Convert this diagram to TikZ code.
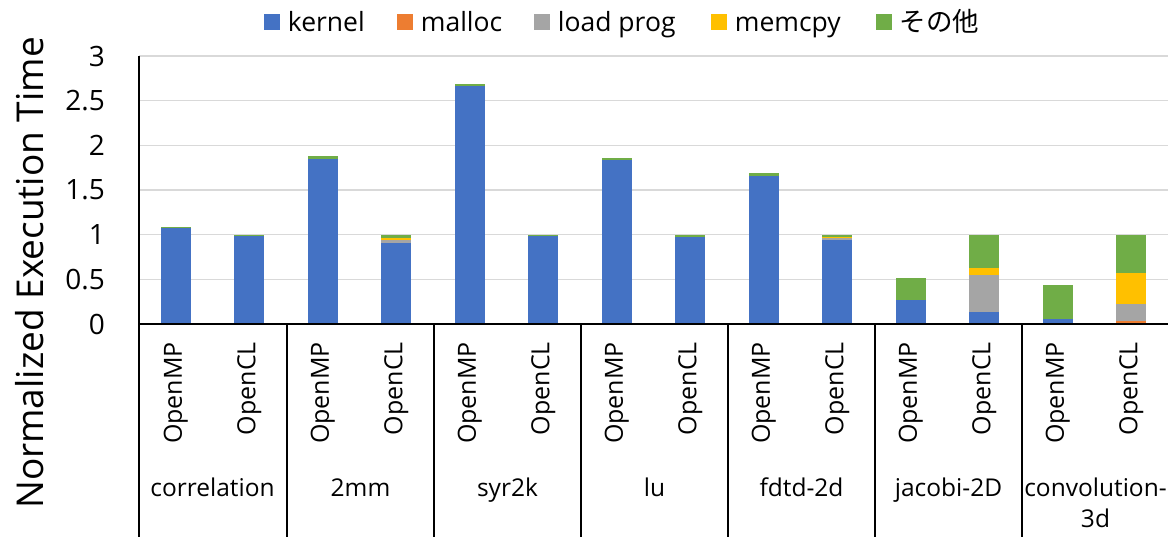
\documentclass[tikz,border=0pt]{standalone}
\usepackage{fontspec}
\setmainfont{Open Sans}
\newfontfamily\jpfont{Noto Sans CJK JP}
\usetikzlibrary{positioning}
\definecolor{kernelc}{HTML}{4472C4}
\definecolor{mallocc}{HTML}{ED7D31}
\definecolor{loadc}{HTML}{A5A5A5}
\definecolor{memcpyc}{HTML}{FFC000}
\definecolor{otherc}{HTML}{70AD47}
\definecolor{gridc}{HTML}{D9D9D9}
% one stacked segment: centre x, from value, to value, colour
\newcommand{\barseg}[4]{\fill[#4] ({#1-15},{213+89.3*#2}) rectangle ({#1+15},{213+89.3*#3});}

\begin{document}
\begin{tikzpicture}[
    x=1pt, y=1pt,
    every node/.style={inner sep=0pt, font=\fontsize{25}{30}\selectfont},
    ticklabel/.style={anchor=east, font=\fontsize{28}{32}\selectfont},
    runlabel/.style={rotate=90, anchor=east},
    grouplabel/.style={anchor=base, font=\fontsize{24.5}{30}\selectfont},
    legbox/.style={minimum size=16pt, fill=#1},
    legtext/.style={font=\fontsize{26.5}{30}\selectfont, text height=22pt, text depth=3pt},
    grid line/.style={draw=gridc, line width=1.5pt},
    axis line/.style={draw=black, line width=1.5pt},
]
  \useasboundingbox (0,0) rectangle (1168,537);

  \foreach \v in {0.5,1,1.5,2,2.5,3}
    \draw[grid line] (139,{213+89.3*\v}) -- (1168,{213+89.3*\v});

  % correlation
  \barseg{175.75}{0}{1.07}{kernelc}
  \barseg{175.75}{1.07}{1.09}{otherc}
  \barseg{249.25}{0}{0.985}{kernelc}
  \barseg{249.25}{0.985}{0.993}{memcpyc}
  \barseg{249.25}{0.993}{1.0}{otherc}
  % 2mm
  \barseg{322.75}{0}{1.85}{kernelc}
  \barseg{322.75}{1.85}{1.88}{otherc}
  \barseg{396.25}{0}{0.91}{kernelc}
  \barseg{396.25}{0.91}{0.94}{loadc}
  \barseg{396.25}{0.94}{0.965}{memcpyc}
  \barseg{396.25}{0.965}{1.0}{otherc}
  % syr2k
  \barseg{469.75}{0}{2.67}{kernelc}
  \barseg{469.75}{2.67}{2.69}{otherc}
  \barseg{543.25}{0}{0.99}{kernelc}
  \barseg{543.25}{0.99}{0.995}{memcpyc}
  \barseg{543.25}{0.995}{1.0}{otherc}
  % lu
  \barseg{616.75}{0}{1.84}{kernelc}
  \barseg{616.75}{1.84}{1.86}{otherc}
  \barseg{690.25}{0}{0.97}{kernelc}
  \barseg{690.25}{0.97}{1.0}{otherc}
  % fdtd-2d
  \barseg{763.75}{0}{1.66}{kernelc}
  \barseg{763.75}{1.66}{1.69}{otherc}
  \barseg{837.25}{0}{0.94}{kernelc}
  \barseg{837.25}{0.94}{0.96}{loadc}
  \barseg{837.25}{0.96}{0.97}{memcpyc}
  \barseg{837.25}{0.97}{1.0}{otherc}
  % jacobi-2D
  \barseg{910.75}{0}{0.27}{kernelc}
  \barseg{910.75}{0.27}{0.52}{otherc}
  \barseg{984.25}{0}{0.13}{kernelc}
  \barseg{984.25}{0.13}{0.55}{loadc}
  \barseg{984.25}{0.55}{0.63}{memcpyc}
  \barseg{984.25}{0.63}{1.0}{otherc}
  % convolution-3d
  \barseg{1057.75}{0}{0.055}{kernelc}
  \barseg{1057.75}{0.055}{0.44}{otherc}
  \barseg{1131.25}{0}{0.01}{kernelc}
  \barseg{1131.25}{0.01}{0.03}{mallocc}
  \barseg{1131.25}{0.03}{0.22}{loadc}
  \barseg{1131.25}{0.22}{0.57}{memcpyc}
  \barseg{1131.25}{0.57}{1.0}{otherc}

  \draw[axis line] (139,{213+89.3*3}) -- (139,0);
  \draw[axis line] (139,213) -- (1168,213);
  \foreach \gx in {287,434,581,728,875,1022}
    \draw[axis line] (\gx,213) -- (\gx,0);

  \node[ticklabel] (t0) at (105,213)              {0};
  \node[ticklabel] (t1) at (105,{213+89.3*0.5})   {0.5};
  \node[ticklabel] (t2) at (105,{213+89.3*1})     {1};
  \node[ticklabel] (t3) at (105,{213+89.3*1.5})   {1.5};
  \node[ticklabel] (t4) at (105,{213+89.3*2})     {2};
  \node[ticklabel] (t5) at (105,{213+89.3*2.5})   {2.5};
  \node[ticklabel] (t6) at (105,{213+89.3*3})     {3};

  \node[rotate=90, font=\fontsize{37}{40}\selectfont] (ytitle) at (30,264) {Normalized Execution Time};

  \node[runlabel] (mp1) at (175.75,195)  {OpenMP};
  \node[runlabel] (cl1) at (249.25,195)  {OpenCL};
  \node[runlabel] (mp2) at (322.75,195)  {OpenMP};
  \node[runlabel] (cl2) at (396.25,195)  {OpenCL};
  \node[runlabel] (mp3) at (469.75,195)  {OpenMP};
  \node[runlabel] (cl3) at (543.25,195)  {OpenCL};
  \node[runlabel] (mp4) at (616.75,195)  {OpenMP};
  \node[runlabel] (cl4) at (690.25,195)  {OpenCL};
  \node[runlabel] (mp5) at (763.75,195)  {OpenMP};
  \node[runlabel] (cl5) at (837.25,195)  {OpenCL};
  \node[runlabel] (mp6) at (910.75,195)  {OpenMP};
  \node[runlabel] (cl6) at (984.25,195)  {OpenCL};
  \node[runlabel] (mp7) at (1057.75,195) {OpenMP};
  \node[runlabel] (cl7) at (1131.25,195) {OpenCL};

  \node[grouplabel] (gcorr)  at (212.5,40)  {correlation};
  \node[grouplabel] (g2mm)   at (360.5,40)  {2mm};
  \node[grouplabel] (gsyr)   at (507.5,40)  {syr2k};
  \node[grouplabel] (glu)    at (654.5,40)  {lu};
  \node[grouplabel] (gfdtd)  at (801.5,40)  {fdtd-2d};
  \node[grouplabel] (gjac)   at (948.5,40)  {jacobi-2D};
  \node[grouplabel] (gconv)  at (1095.5,40) {convolution-};
  \node[grouplabel] (gconv2) at (1095.5,9)  {3d};

  \node[legbox=kernelc] (lk) at (271.5,514.5) {};
  \node[legtext, right=8pt of lk] (nk) {kernel};
  \node[legbox=mallocc] (lm) at (404.5,514.5) {};
  \node[legtext, right=8pt of lm] (nm) {malloc};
  \node[legbox=loadc]   (ll) at (541.5,514.5) {};
  \node[legtext, right=8pt of ll] (nl) {load prog};
  \node[legbox=memcpyc] (lc) at (718.5,514.5) {};
  \node[legtext, right=8pt of lc] (nc) {memcpy};
  \node[legbox=otherc]  (lo) at (883.5,514.5) {};
  \node[legtext, right=8pt of lo] (no) {\jpfont その他};
\end{tikzpicture}
\end{document}
